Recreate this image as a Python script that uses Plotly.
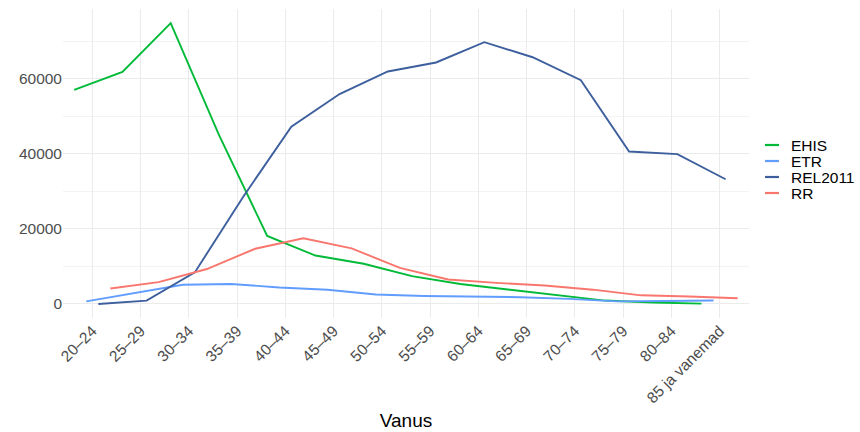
import plotly.graph_objects as go

categories = ["20–24", "25–29", "30–34", "35–39", "40–44", "45–49", "50–54",
              "55–59", "60–64", "65–69", "70–74", "75–79", "80–84", "85 ja vanemad"]

series_names = ["EHIS", "ETR", "REL2011", "RR"]
ehis = [57000, 61800, 74800, 45000, 18100, 12900, 10700, 7400, 5300, 3800, 2300, 900, 400, 100]
etr = [700, 3000, 5100, 5300, 4400, 3800, 2500, 2100, 1950, 1800, 1350, 700, 800, 900]
rel2011 = [0, 880, 8400, 28500, 47200, 55900, 61900, 64300, 69700, 65700, 59600, 40600, 39900, 33200]
rr = [4100, 5800, 9300, 14700, 17500, 14800, 9600, 6500, 5600, 4900, 3800, 2300, 2000, 1500]

colors = ["#00BA38", "#619CFF", "#3D5F9E", "#F8766D"]
dodge = [-0.375, -0.125, 0.125, 0.375]

W, H = 860, 432
ML, MR, MT, MB = 63, 111, 9, 114
PW, PH = W - ML - MR, H - MT - MB

fig = go.Figure()
for name, vals, col, off in zip(series_names, [ehis, etr, rel2011, rr], colors, dodge):
    fig.add_trace(go.Scatter(
        x=[i + off for i in range(len(categories))],
        y=vals, mode="lines", name=name,
        line=dict(color=col, width=1.9), showlegend=False,
    ))

# ggplot-style compact legend (swatch + label), built from the series lists
def px_x(px):
    return (px - ML) / PW

def px_y(py):
    return (H - MB - py) / PH

shapes, annotations = [], []
leg_x0, leg_x1, leg_text_x, leg_y0, leg_dy = 765, 779, 789, 145, 16
for k, (name, col) in enumerate(zip(series_names, colors)):
    yy = px_y(leg_y0 + k * leg_dy)
    shapes.append(dict(type="line", xref="paper", yref="paper",
                       x0=px_x(leg_x0), x1=px_x(leg_x1), y0=yy, y1=yy,
                       line=dict(color=col, width=2.2)))
    annotations.append(dict(xref="paper", yref="paper", x=px_x(leg_text_x), y=yy,
                            text=name, showarrow=False, xanchor="left", yanchor="middle",
                            font=dict(size=15.5, color="black")))

font_family = "Liberation Sans, Arial, sans-serif"
fig.update_layout(
    width=W, height=H,
    margin=dict(l=ML, r=MR, t=MT, b=MB),
    plot_bgcolor="white", paper_bgcolor="white",
    font=dict(family=font_family, size=15, color="#4D4D4D"),
    showlegend=False,
    shapes=shapes, annotations=annotations,
)
fig.update_xaxes(
    range=[-0.607, 13.61], automargin=False,
    tickmode="array", tickvals=list(range(len(categories))), ticktext=categories,
    tickangle=-45, showgrid=True, gridcolor="#EBEBEB", gridwidth=1,
    zeroline=False, showline=False, ticks="",
    tickfont=dict(size=15.5, color="#4D4D4D"),
    title=dict(text="Vanus", font=dict(size=19, color="black"), standoff=8),
)
fig.update_yaxes(
    range=[-3740, 78540], automargin=False,
    tickmode="array", tickvals=[0, 20000, 40000, 60000],
    ticktext=["0", "20000", "40000", "60000"],
    showgrid=True, gridcolor="#EBEBEB", gridwidth=1,
    minor=dict(tickvals=[10000, 30000, 50000, 70000], showgrid=True,
               gridcolor="#F3F3F3", gridwidth=0.6),
    zeroline=False, showline=False, ticks="",
    tickfont=dict(size=15.5, color="#4D4D4D"),
)
fig.write_html(
    "out.html",
    config={"displayModeBar": False},
    post_script="document.body.style.margin='0';document.body.style.overflow='hidden';",
)
